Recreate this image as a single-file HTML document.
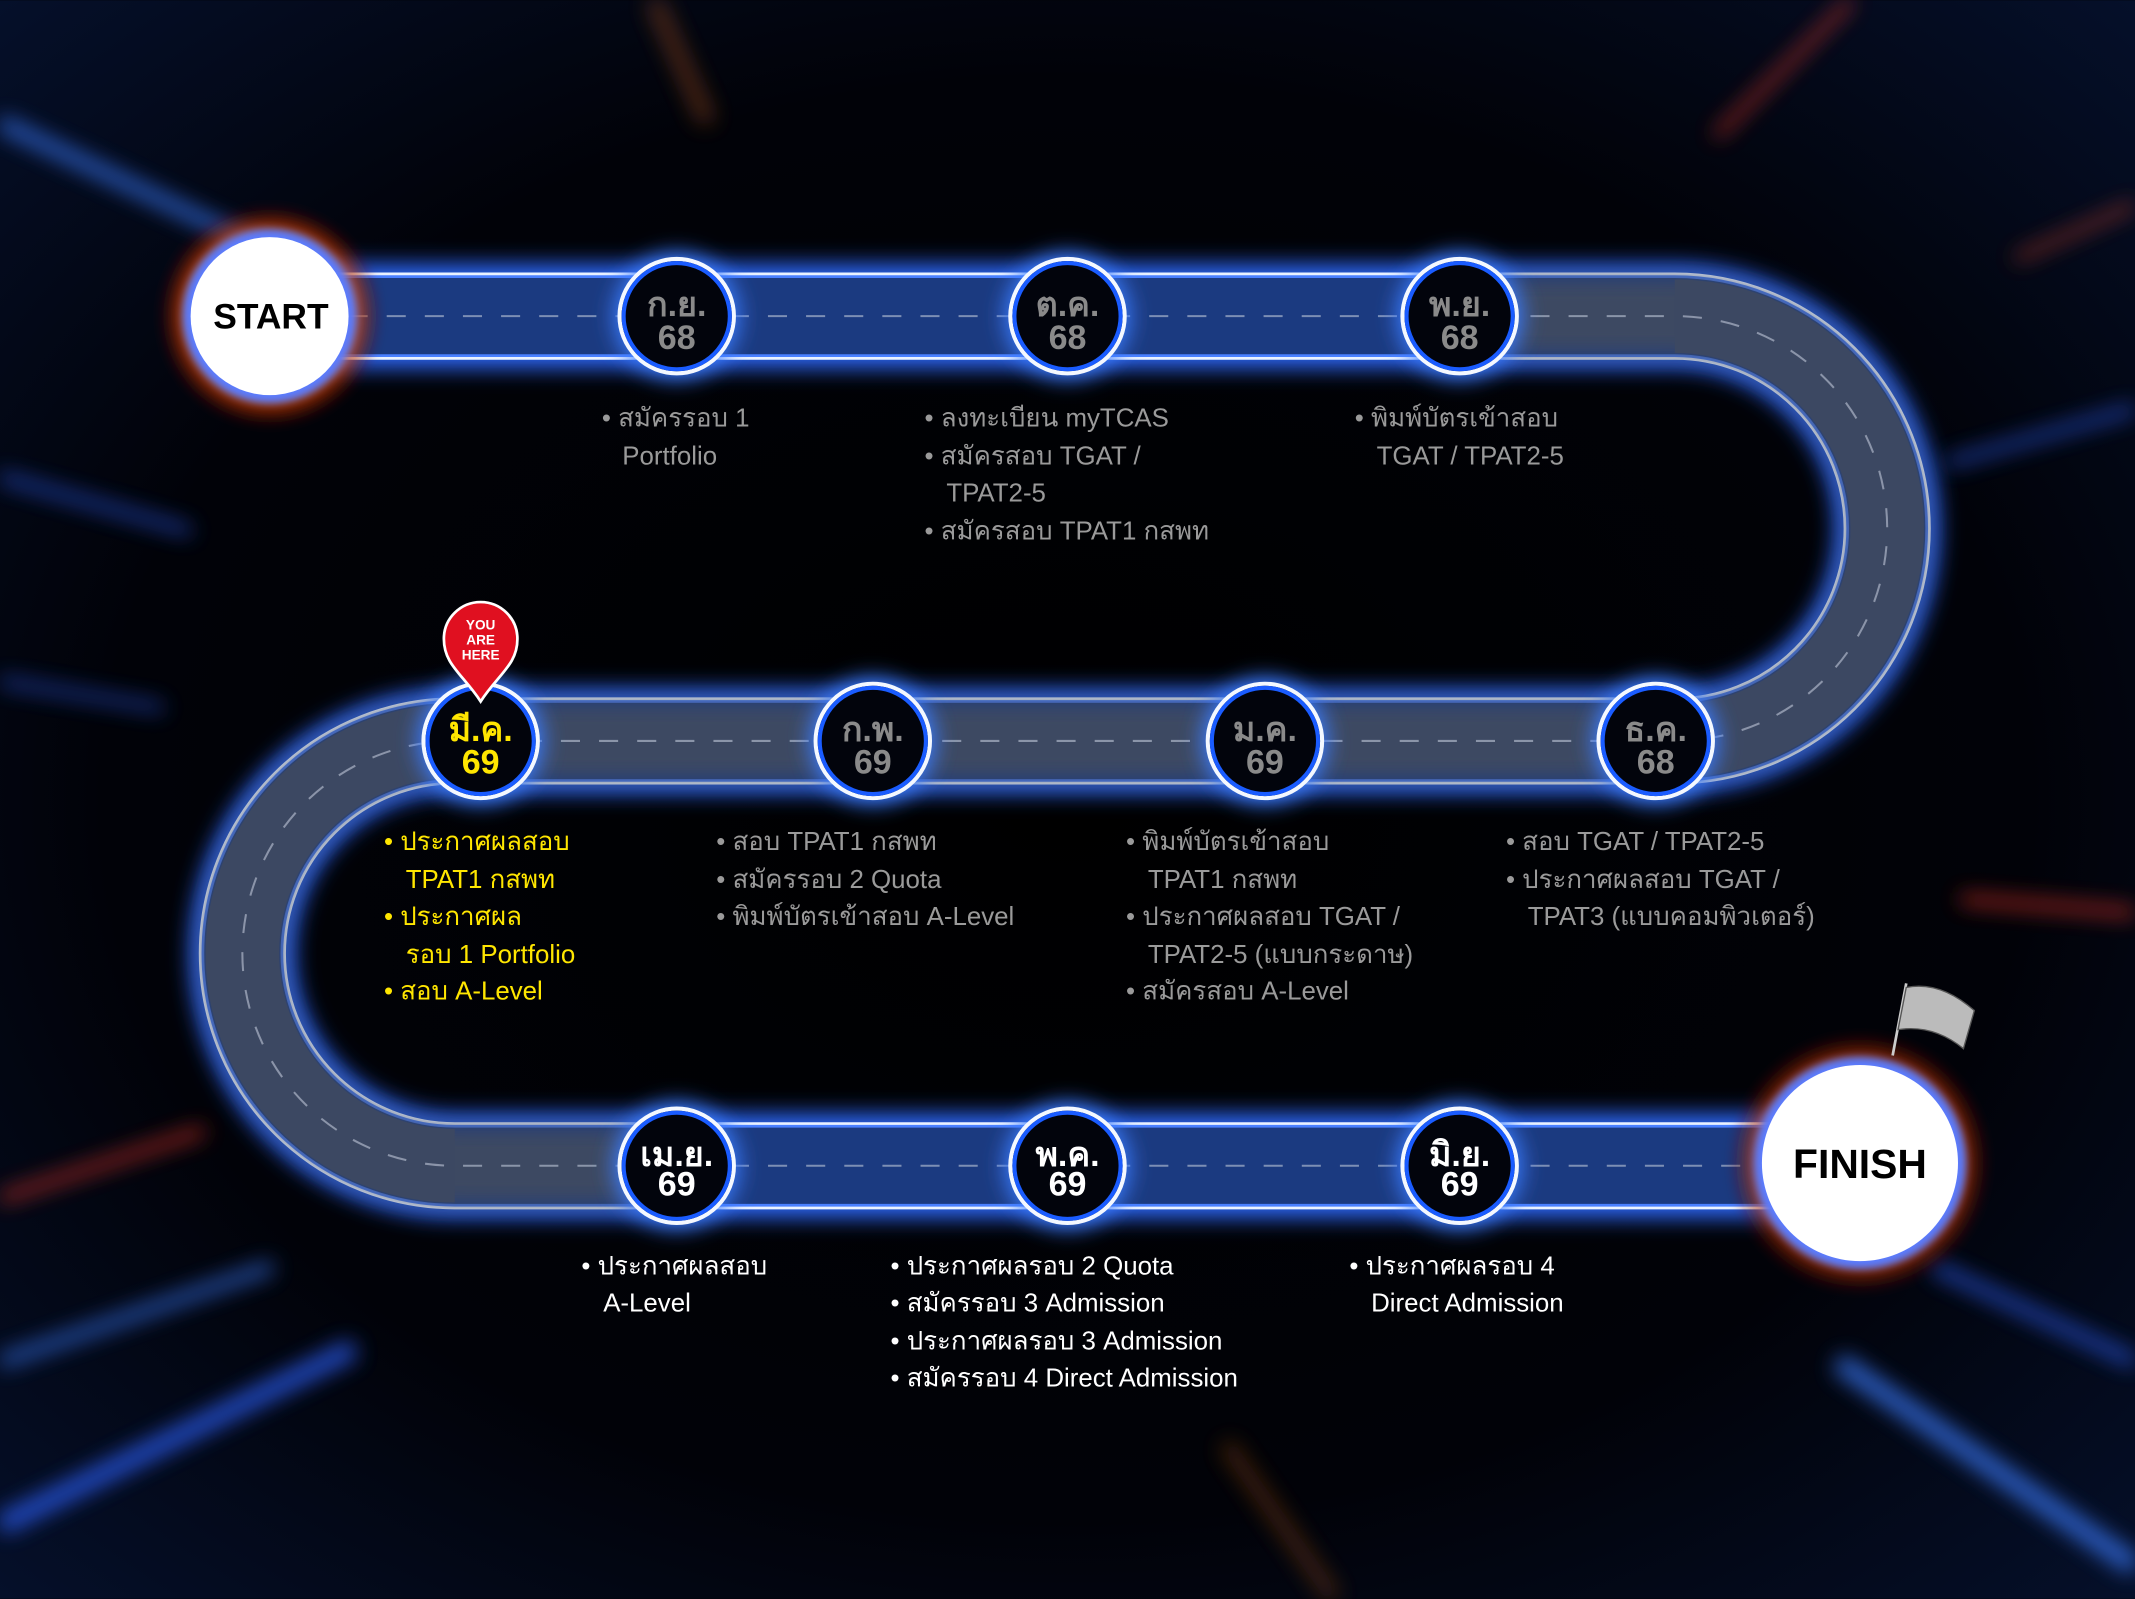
<!DOCTYPE html>
<html><head><meta charset="utf-8">
<style>
html,body{margin:0;padding:0;background:#000;}
svg{display:block;}
text{font-family:"Liberation Sans","DejaVu Sans",sans-serif;}
</style></head>
<body>
<svg width="2135" height="1599" viewBox="0 0 1568 1174" xmlns="http://www.w3.org/2000/svg">
<defs>
<radialGradient id="bg" cx="50%" cy="50%" r="75%">
<stop offset="0" stop-color="#000"/>
<stop offset="0.6" stop-color="#010208"/>
<stop offset="1" stop-color="#061230"/>
</radialGradient>
<filter id="blur8"><feGaussianBlur stdDeviation="8"/></filter>
<filter id="blur3"><feGaussianBlur stdDeviation="3"/></filter>
<radialGradient id="fire" cx="50%" cy="50%" r="50%">
<stop offset="0.6" stop-color="#ff8a20" stop-opacity="0.9"/>
<stop offset="0.8" stop-color="#d03a00" stop-opacity="0.6"/>
<stop offset="1" stop-color="#400" stop-opacity="0"/>
</radialGradient>
</defs>
<rect width="1568" height="1174" fill="url(#bg)"/>
<g filter="url(#blur8)" opacity="0.8">
<line x1="0" y1="90" x2="230" y2="200" stroke="#3a7bff" stroke-width="10"/>
<line x1="0" y1="350" x2="140" y2="390" stroke="#2f62ff" stroke-width="6"/>
<line x1="0" y1="500" x2="120" y2="520" stroke="#2f62ff" stroke-width="5"/>
<line x1="0" y1="880" x2="150" y2="830" stroke="#ff3a2a" stroke-width="6"/>
<line x1="0" y1="1000" x2="200" y2="930" stroke="#3a7bff" stroke-width="8"/>
<line x1="0" y1="1120" x2="260" y2="990" stroke="#2f62ff" stroke-width="14"/>
<line x1="1568" y1="300" x2="1430" y2="340" stroke="#2f62ff" stroke-width="6"/>
<line x1="1568" y1="670" x2="1440" y2="660" stroke="#ff3a2a" stroke-width="6"/>
<line x1="1568" y1="1000" x2="1420" y2="930" stroke="#2f62ff" stroke-width="8"/>
<line x1="1568" y1="1150" x2="1350" y2="1000" stroke="#3a7bff" stroke-width="14"/>
<line x1="1360" y1="0" x2="1260" y2="100" stroke="#ff3a2a" stroke-width="5"/>
<line x1="1568" y1="150" x2="1480" y2="190" stroke="#ff5030" stroke-width="4"/>
<line x1="480" y1="0" x2="520" y2="90" stroke="#c86020" stroke-width="12" opacity="0.5"/>
<line x1="980" y1="1174" x2="900" y2="1060" stroke="#c86020" stroke-width="12" opacity="0.4"/>
</g>
<!-- road -->
<path d="M200,232 H1230 A156,156 0 0 1 1230,544 H334 A156,156 0 0 0 334,856 H1370" fill="none" stroke="#2f6bff" stroke-width="76" filter="url(#blur8)"/>
<path d="M200,232 H1230 A156,156 0 0 1 1230,544 H334 A156,156 0 0 0 334,856 H1370" fill="none" stroke="#eaf2ff" stroke-width="64"/>
<path d="M200,232 H1230 A156,156 0 0 1 1230,544 H334 A156,156 0 0 0 334,856 H1370" fill="none" stroke="#4a80ff" stroke-width="60"/>
<path d="M200,232 H1230 A156,156 0 0 1 1230,544 H334 A156,156 0 0 0 334,856 H1370" fill="none" stroke="#1b3a80" stroke-width="56"/>
<path d="M1100,232 H1230 A156,156 0 0 1 1230,544 H334 A156,156 0 0 0 334,856 H480" fill="none" stroke="#3c4862" stroke-width="56" filter="url(#blur8)"/>
<path d="M1230,232 A156,156 0 0 1 1230,544" fill="none" stroke="#3c4862" stroke-width="54"/>
<path d="M334,544 A156,156 0 0 0 334,856" fill="none" stroke="#3c4862" stroke-width="54"/>
<path d="M400,544 H1170" fill="none" stroke="#555b6a" stroke-width="40" filter="url(#blur8)" opacity="0.9"/>
<path d="M200,232 H1230 A156,156 0 0 1 1230,544 H334 A156,156 0 0 0 334,856 H1370" fill="none" stroke="#c0c8d8" stroke-opacity="0.6" stroke-width="1.5" stroke-dasharray="14 14"/>
<!-- nodes -->
<g font-weight="bold" text-anchor="middle" font-size="25">
<g fill="#3a7bff" filter="url(#blur8)">
<circle cx="497" cy="232" r="46"/><circle cx="784" cy="232" r="46"/><circle cx="1072" cy="232" r="46"/>
<circle cx="353" cy="544" r="46"/><circle cx="641" cy="544" r="46"/><circle cx="929" cy="544" r="46"/><circle cx="1216" cy="544" r="46"/>
<circle cx="497" cy="856" r="46"/><circle cx="784" cy="856" r="46"/><circle cx="1072" cy="856" r="46"/>
</g>
<g fill="#02040c" stroke="#f4f8ff" stroke-width="3">
<circle cx="497" cy="232" r="42"/><circle cx="784" cy="232" r="42"/><circle cx="1072" cy="232" r="42"/>
<circle cx="353" cy="544" r="42"/><circle cx="641" cy="544" r="42"/><circle cx="929" cy="544" r="42"/><circle cx="1216" cy="544" r="42"/>
<circle cx="497" cy="856" r="42"/><circle cx="784" cy="856" r="42"/><circle cx="1072" cy="856" r="42"/>
</g>
<g fill="none" stroke="#1a5cff" stroke-width="3">
<circle cx="497" cy="232" r="39"/><circle cx="784" cy="232" r="39"/><circle cx="1072" cy="232" r="39"/>
<circle cx="353" cy="544" r="39"/><circle cx="641" cy="544" r="39"/><circle cx="929" cy="544" r="39"/><circle cx="1216" cy="544" r="39"/>
<circle cx="497" cy="856" r="39"/><circle cx="784" cy="856" r="39"/><circle cx="1072" cy="856" r="39"/>
</g>
<g fill="#8a8a8a">
<text x="497" y="232">ก.ย.</text><text x="497" y="256">68</text>
<text x="784" y="232">ต.ค.</text><text x="784" y="256">68</text>
<text x="1072" y="232">พ.ย.</text><text x="1072" y="256">68</text>
<text x="641" y="544">ก.พ.</text><text x="641" y="568">69</text>
<text x="929" y="544">ม.ค.</text><text x="929" y="568">69</text>
<text x="1216" y="544">ธ.ค.</text><text x="1216" y="568">68</text>
</g>
<g fill="#ffe600"><text x="353" y="544">มี.ค.</text><text x="353" y="568">69</text></g>
<g fill="#ffffff">
<text x="497" y="856">เม.ย.</text><text x="497" y="878">69</text>
<text x="784" y="856">พ.ค.</text><text x="784" y="878">69</text>
<text x="1072" y="856">มิ.ย.</text><text x="1072" y="878">69</text>
</g>
</g>
<!-- START -->
<circle cx="198" cy="232" r="84" fill="url(#fire)" filter="url(#blur3)"/>
<circle cx="198" cy="232" r="64" fill="#5a7bff" filter="url(#blur3)"/>
<circle cx="198" cy="232" r="58" fill="#fff"/>
<text x="199" y="241" text-anchor="middle" font-size="26" font-weight="bold" fill="#000">START</text>
<!-- FINISH -->
<circle cx="1366" cy="854" r="98" fill="url(#fire)" filter="url(#blur3)"/>
<circle cx="1366" cy="854" r="78" fill="#5a7bff" filter="url(#blur3)"/>
<circle cx="1366" cy="854" r="72" fill="#fff"/>
<text x="1366" y="865" text-anchor="middle" font-size="30" font-weight="bold" fill="#000">FINISH</text>
<line x1="1390" y1="775" x2="1400" y2="722" stroke="#ccc" stroke-width="2"/>
<path d="M1400,725 Q1425,720 1450,742 L1442,770 Q1420,752 1394,756 Z" fill="#bbb" stroke="#555" stroke-width="1"/>
<!-- pin -->
<path d="M353,515 C340,495 326,488 326,469 A27,27 0 0 1 380,469 C380,488 366,495 353,515 Z" fill="#e01020" stroke="#fff" stroke-width="2"/>
<g font-size="10" font-weight="bold" fill="#fff" text-anchor="middle">
<text x="353" y="462">YOU</text><text x="353" y="473">ARE</text><text x="353" y="484">HERE</text>
</g>
<!-- labels -->
<g font-size="19" fill="#9a9a9a">
<text x="442" y="313">•  สมัครรอบ 1</text><text x="457" y="341">Portfolio</text>
<text x="679" y="313">•  ลงทะเบียน myTCAS</text>
<text x="679" y="341">•  สมัครสอบ TGAT /</text><text x="695" y="368">TPAT2-5</text>
<text x="679" y="396">•  สมัครสอบ TPAT1 กสพท</text>
<text x="995" y="313">•  พิมพ์บัตรเข้าสอบ</text><text x="1011" y="341">TGAT / TPAT2-5</text>
<text x="526" y="624">•  สอบ TPAT1 กสพท</text>
<text x="526" y="652">•  สมัครรอบ 2 Quota</text>
<text x="526" y="679">•  พิมพ์บัตรเข้าสอบ A-Level</text>
<text x="827" y="624">•  พิมพ์บัตรเข้าสอบ</text><text x="843" y="652">TPAT1 กสพท</text>
<text x="827" y="679">•  ประกาศผลสอบ TGAT /</text><text x="843" y="707">TPAT2-5 (แบบกระดาษ)</text>
<text x="827" y="734">•  สมัครสอบ A-Level</text>
<text x="1106" y="624">•  สอบ TGAT / TPAT2-5</text>
<text x="1106" y="652">•  ประกาศผลสอบ TGAT /</text><text x="1122" y="679">TPAT3 (แบบคอมพิวเตอร์)</text>
</g>
<g font-size="19" fill="#ffe600">
<text x="282" y="624">•  ประกาศผลสอบ</text><text x="298" y="652">TPAT1 กสพท</text>
<text x="282" y="679">•  ประกาศผล</text><text x="298" y="707">รอบ 1 Portfolio</text>
<text x="282" y="734">•  สอบ A-Level</text>
</g>
<g font-size="19" fill="#ffffff">
<text x="427" y="936">•  ประกาศผลสอบ</text><text x="443" y="963">A-Level</text>
<text x="654" y="936">•  ประกาศผลรอบ 2 Quota</text>
<text x="654" y="963">•  สมัครรอบ 3 Admission</text>
<text x="654" y="991">•  ประกาศผลรอบ 3 Admission</text>
<text x="654" y="1018">•  สมัครรอบ 4 Direct Admission</text>
<text x="991" y="936">•  ประกาศผลรอบ 4</text><text x="1007" y="963">Direct Admission</text>
</g>
</svg>
</body></html>
